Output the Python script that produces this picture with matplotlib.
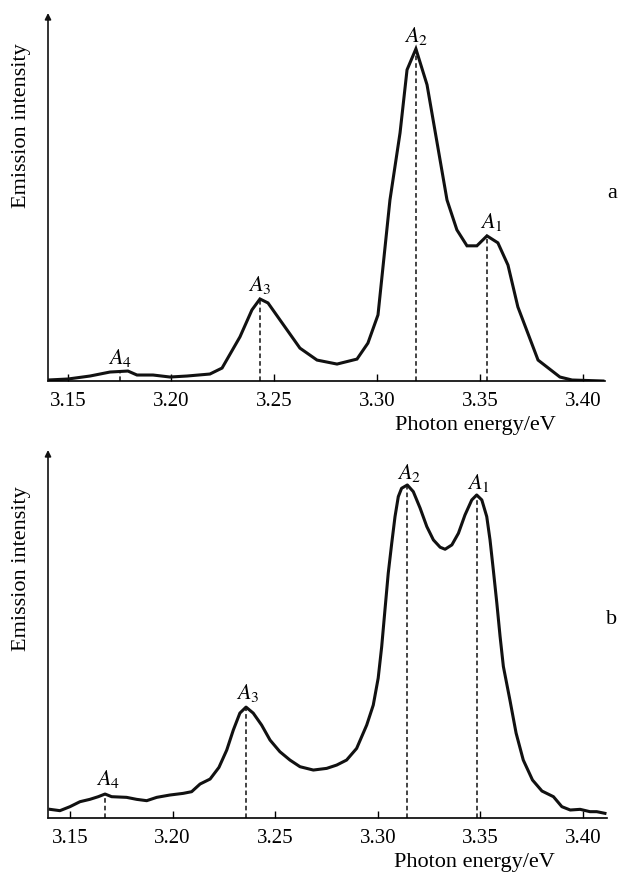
import numpy as np
import matplotlib
matplotlib.use("Agg")
import matplotlib.pyplot as plt

plt.rcParams["font.family"] = ["Liberation Serif", "DejaVu Serif"]
plt.rcParams["mathtext.fontset"] = "stix"

energy_a = [3.1403, 3.1500, 3.1607, 3.1704, 3.1791, 3.1835, 3.1913, 3.1995, 3.2078,
            3.2189, 3.2248, 3.2335, 3.2393, 3.2432, 3.2471, 3.2529, 3.2626, 3.2709,
            3.2806, 3.2903, 3.2956, 3.3005, 3.3063, 3.3112, 3.3146, 3.3189, 3.3243,
            3.3340, 3.3388, 3.3437, 3.3485, 3.3534, 3.3587, 3.3636, 3.3684, 3.3782,
            3.3888, 3.3947, 3.4097]
intensity_a = [0.003, 0.006, 0.015, 0.027, 0.030, 0.018, 0.018, 0.012, 0.015,
               0.021, 0.039, 0.133, 0.214, 0.247, 0.235, 0.184, 0.099, 0.063,
               0.051, 0.066, 0.114, 0.199, 0.545, 0.747, 0.937, 1.000, 0.892,
               0.545, 0.455, 0.407, 0.407, 0.437, 0.416, 0.349, 0.223, 0.063,
               0.012, 0.003, 0.000]
peaks_a = [3.3534, 3.3189, 3.2432, 3.1752]

# Panel b
energy_b = [3.1403, 3.1451, 3.1500, 3.1549, 3.1597, 3.1638, 3.1671, 3.1703, 3.1776,
            3.1825, 3.1874, 3.1923, 3.1987, 3.2052, 3.2093, 3.2134, 3.2183, 3.2226,
            3.2264, 3.2296, 3.2328, 3.2358, 3.2393, 3.2434, 3.2475, 3.2523, 3.2572,
            3.2621, 3.2686, 3.2751, 3.2800, 3.2848, 3.2897, 3.2946, 3.2978, 3.3002,
            3.3019, 3.3035, 3.3051, 3.3068, 3.3084, 3.3100, 3.3116, 3.3144, 3.3173,
            3.3206, 3.3239, 3.3271, 3.3304, 3.3328, 3.3361, 3.3393, 3.3425, 3.3458,
            3.3482, 3.3507, 3.3531, 3.3547, 3.3563, 3.3580, 3.3596, 3.3612, 3.3644,
            3.3674, 3.3709, 3.3754, 3.3800, 3.3856, 3.3897, 3.3938, 3.3986, 3.4034,
            3.4067, 3.4107]
intensity_b = [0.026, 0.022, 0.034, 0.049, 0.056, 0.064, 0.072, 0.064, 0.062,
               0.056, 0.052, 0.062, 0.069, 0.074, 0.079, 0.102, 0.117, 0.152,
               0.204, 0.264, 0.315, 0.333, 0.315, 0.279, 0.234, 0.199, 0.174,
               0.154, 0.144, 0.149, 0.159, 0.174, 0.209, 0.279, 0.339, 0.420,
               0.514, 0.625, 0.735, 0.825, 0.905, 0.965, 0.990, 1.000, 0.980,
               0.931, 0.875, 0.835, 0.813, 0.807, 0.820, 0.855, 0.910, 0.955,
               0.970, 0.955, 0.905, 0.835, 0.745, 0.646, 0.545, 0.455, 0.354,
               0.255, 0.174, 0.114, 0.081, 0.064, 0.034, 0.024, 0.026, 0.019,
               0.019, 0.014]
peaks_b = [3.3482, 3.3144, 3.2358, 3.1671]

peak_names = ["$A_1$", "$A_2$", "$A_3$", "$A_4$"]
xticks = [3.15, 3.20, 3.25, 3.30, 3.35, 3.40]

W, H = 621, 874
fig = plt.figure(figsize=(W / 100, H / 100), dpi=100)


def panel(rect, energy, intensity, peaks, xlim, ylim, label_offsets, tag, tag_y,
          joins="miter"):
    ax = fig.add_axes(rect)
    ax.plot(energy, intensity, color="#111111", lw=2.2, solid_joinstyle=joins)
    for px, name, (dx, dy) in zip(peaks, peak_names, label_offsets):
        py = np.interp(px, energy, intensity)
        ax.plot([px, px], [0, py], color="#111111", lw=1.1, ls=(0, (3, 2)))
        ax.annotate(name, (px, py), xytext=(dx, dy), textcoords="offset points",
                    ha="center", va="bottom", fontsize=16)
    ax.set_xlim(*xlim)
    ax.set_ylim(*ylim)
    for s in ["top", "right", "left"]:
        ax.spines[s].set_visible(False)
    ax.spines["bottom"].set_linewidth(1.2)
    ax.annotate("", xy=(0, 1), xytext=(0, 0), xycoords="axes fraction",
                arrowprops=dict(arrowstyle="-|>", color="#111111", lw=1.2,
                                mutation_scale=9, shrinkA=0, shrinkB=0))
    ax.set_yticks([])
    ax.set_xticks(xticks)
    ax.set_xticklabels([f"{t:.2f}" for t in xticks])
    ax.tick_params(axis="x", direction="in", length=5, width=1, pad=8, labelsize=15)
    ax.text(-26 / (rect[2] * W), tag_y[0], "Emission intensity", transform=ax.transAxes,
            rotation=90, ha="center", va="center", fontsize=16)
    ax.text(tag_y[1], -0.122, "Photon energy/eV", transform=ax.transAxes,
            ha="center", va="center", fontsize=16)
    fig.text(612 / W, tag, "a" if rect[1] > 0.5 else "b", ha="center", va="center",
             fontsize=16)
    return ax


panel([48 / W, 1 - 381 / H, 557 / W, 368 / H], energy_a, intensity_a, peaks_a,
      (3.1403, 3.4107), (0, 1.108),
      [(3, 2), (0, 1), (0, 2), (0, 2)], 1 - 193 / H, (0.693, 0.767))
panel([48 / W, 1 - 818 / H, 559 / W, 368 / H], energy_b, intensity_b, peaks_b,
      (3.1393, 3.4117), (0, 1.105),
      [(1, 1), (1, 1), (1, 2), (2, 3)], 1 - 620 / H, (0.679, 0.763), joins="round")

fig.savefig("out.png", dpi=100)
